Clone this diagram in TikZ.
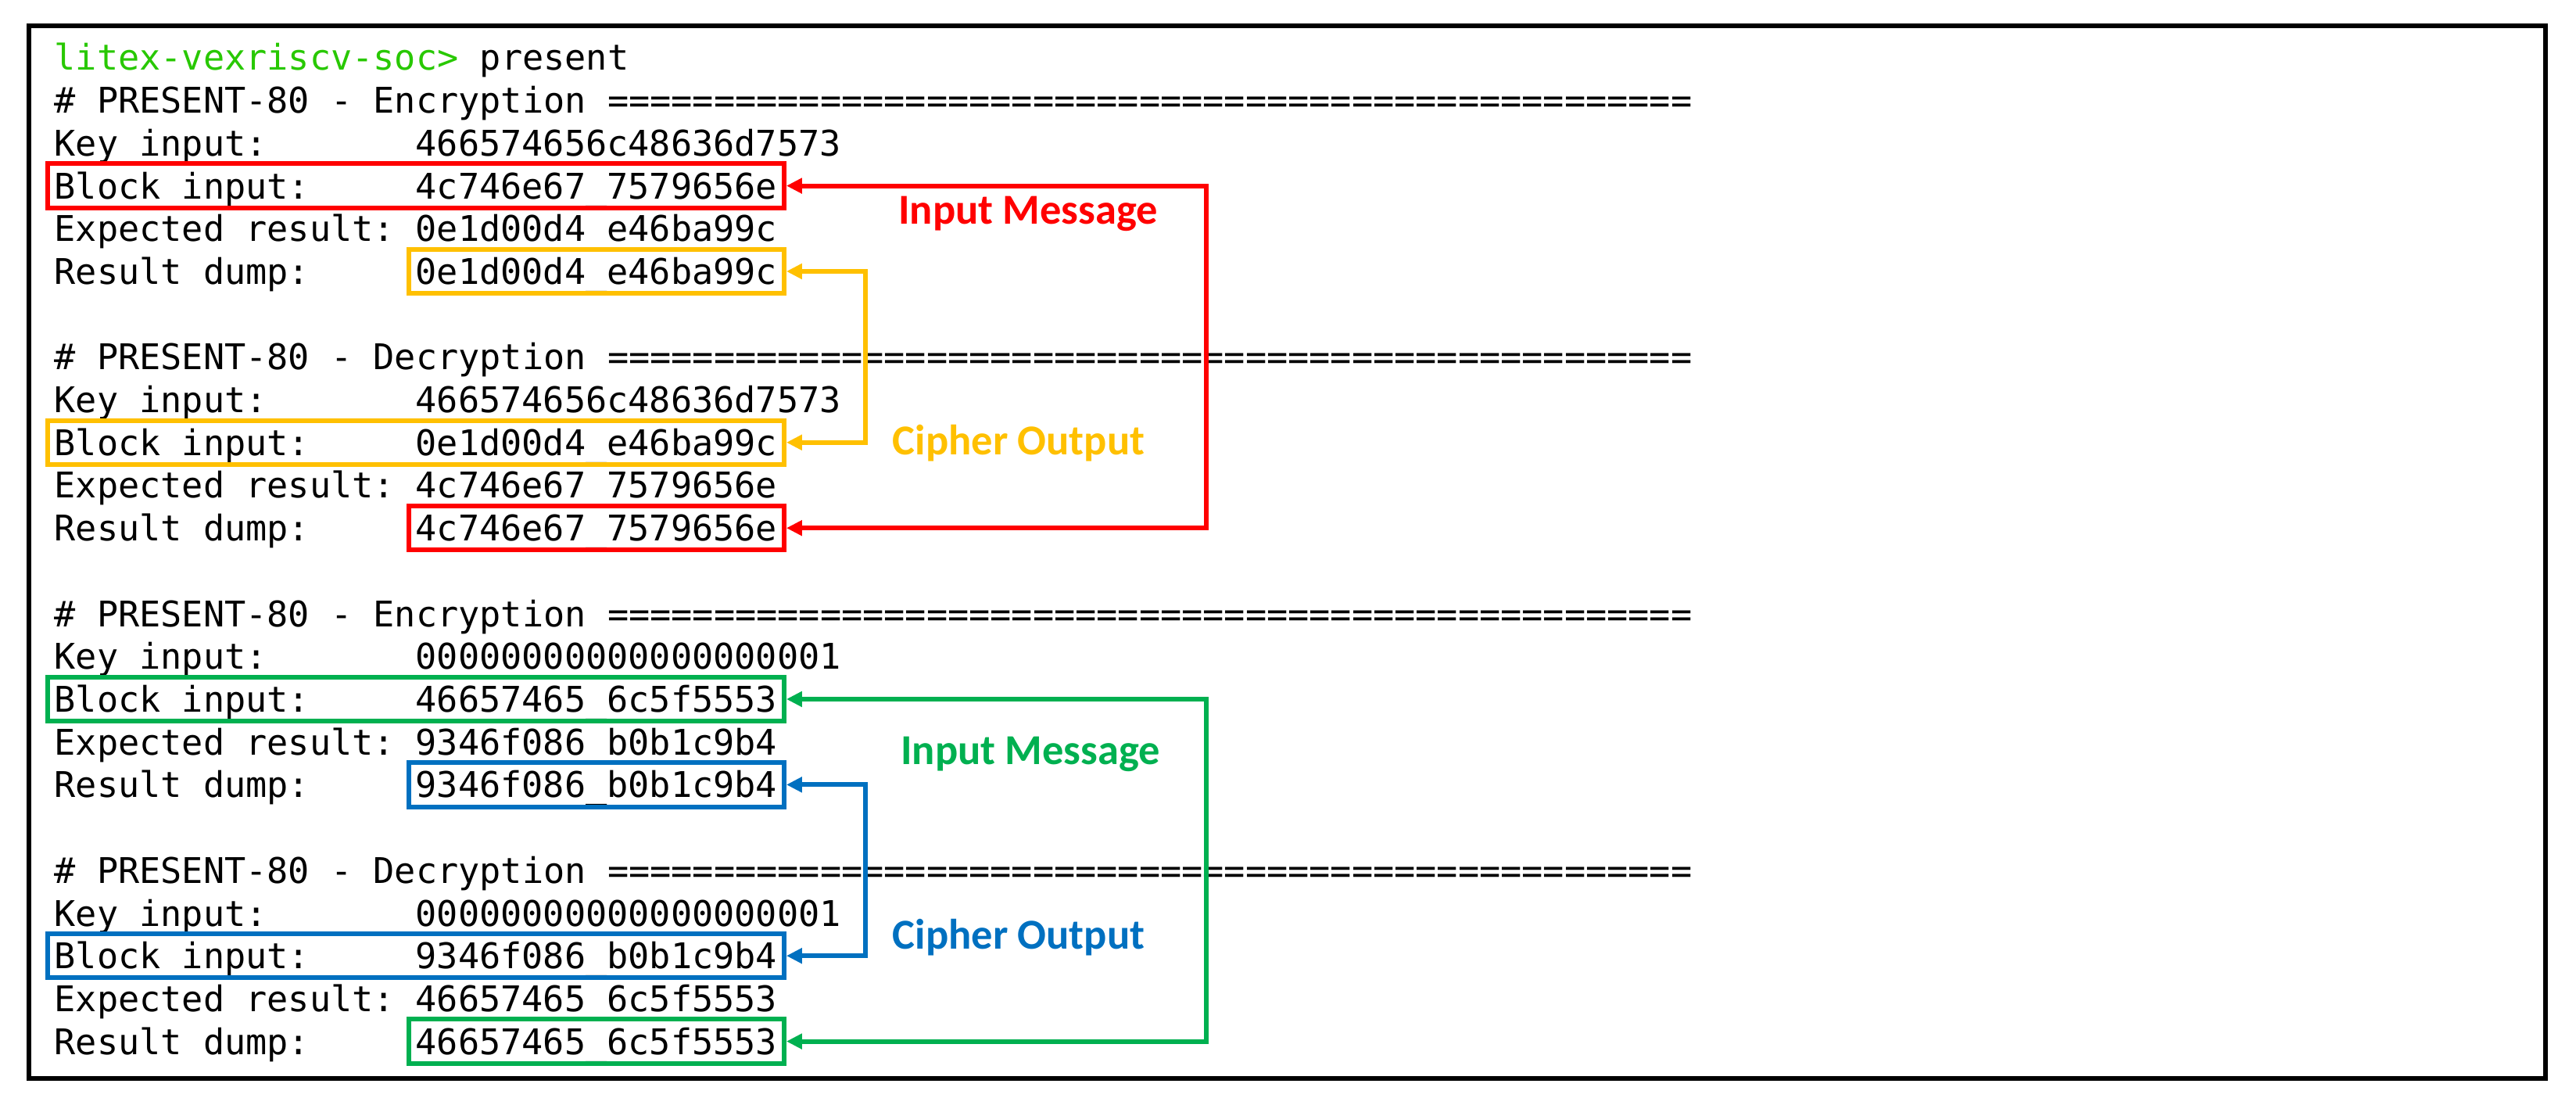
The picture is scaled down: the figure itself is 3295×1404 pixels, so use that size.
\documentclass[tikz,border=0pt]{standalone}
\usepackage{fontspec}
\newfontfamily\termfont{DejaVu Sans Mono}
\newfontfamily\tagfont{Carlito}
\usetikzlibrary{arrows.meta,fit}
\definecolor{promptgreen}{RGB}{40,200,0}
\definecolor{hlred}{RGB}{255,0,0}
\definecolor{hlyellow}{RGB}{255,192,0}
\definecolor{hlgreen}{RGB}{0,176,80}
\definecolor{hlblue}{RGB}{0,112,192}
\tikzset{
  term/.style={anchor=base west,inner sep=0pt,text height=0.33cm,text depth=0pt,
    font=\termfont\fontsize{12.85}{15}\selectfont},
  hl/.style={draw=#1,line width=1.7pt,inner xsep=0.08cm,inner ysep=0.11cm},
  link/.style={draw=#1,line width=1.7pt,
    {Triangle[length=0.2cm,width=0.19cm]}-{Triangle[length=0.2cm,width=0.19cm]}},
  tag/.style={font=\tagfont\bfseries\fontsize{15.5}{18}\selectfont,text=#1}
}

\begin{document}
\begin{tikzpicture}[x=0.01cm,y=-0.01cm]
\useasboundingbox (0,0) rectangle (3295,1404);
\draw[line width=1.5pt] (37,33) rectangle (3256,1379);

% console lines
\node[term] (l0) at (69,90) {\textcolor{promptgreen}{litex-vexriscv-soc>} present};
\node[term] (l1) at (69,144.7) {\# PRESENT-80 - Encryption ===================================================};
\node[term] (l2) at (69,199.4) {Key input:};
\node[term] (v2) at (531,199.4) {466574656c48636d7573};
\node[term] (l3) at (69,254.1) {Block input:};
\node[term] (v3) at (531,254.1) {4c746e67\_7579656e};
\node[term] (l4) at (69,308.8) {Expected result:};
\node[term] (v4) at (531,308.8) {0e1d00d4\_e46ba99c};
\node[term] (l5) at (69,363.5) {Result dump:};
\node[term] (v5) at (531,363.5) {0e1d00d4\_e46ba99c};

\node[term] (l7) at (69,472.9) {\# PRESENT-80 - Decryption ===================================================};
\node[term] (l8) at (69,527.6) {Key input:};
\node[term] (v8) at (531,527.6) {466574656c48636d7573};
\node[term] (l9) at (69,582.3) {Block input:};
\node[term] (v9) at (531,582.3) {0e1d00d4\_e46ba99c};
\node[term] (l10) at (69,637) {Expected result:};
\node[term] (v10) at (531,637) {4c746e67\_7579656e};
\node[term] (l11) at (69,691.7) {Result dump:};
\node[term] (v11) at (531,691.7) {4c746e67\_7579656e};

\node[term] (l13) at (69,801.1) {\# PRESENT-80 - Encryption ===================================================};
\node[term] (l14) at (69,855.8) {Key input:};
\node[term] (v14) at (531,855.8) {00000000000000000001};
\node[term] (l15) at (69,910.5) {Block input:};
\node[term] (v15) at (531,910.5) {46657465\_6c5f5553};
\node[term] (l16) at (69,965.2) {Expected result:};
\node[term] (v16) at (531,965.2) {9346f086\_b0b1c9b4};
\node[term] (l17) at (69,1019.9) {Result dump:};
\node[term] (v17) at (531,1019.9) {9346f086\_b0b1c9b4};

\node[term] (l19) at (69,1129.3) {\# PRESENT-80 - Decryption ===================================================};
\node[term] (l20) at (69,1184) {Key input:};
\node[term] (v20) at (531,1184) {00000000000000000001};
\node[term] (l21) at (69,1238.7) {Block input:};
\node[term] (v21) at (531,1238.7) {9346f086\_b0b1c9b4};
\node[term] (l22) at (69,1293.4) {Expected result:};
\node[term] (v22) at (531,1293.4) {46657465\_6c5f5553};
\node[term] (l23) at (69,1348.1) {Result dump:};
\node[term] (v23) at (531,1348.1) {46657465\_6c5f5553};

% highlight boxes
\node[hl=hlred,fit=(l3)(v3)] (b3) {};
\node[hl=hlyellow,fit=(v5)] (b5) {};
\node[hl=hlyellow,fit=(l9)(v9)] (b9) {};
\node[hl=hlred,fit=(v11)] (b11) {};
\node[hl=hlgreen,fit=(l15)(v15)] (b15) {};
\node[hl=hlblue,fit=(v17)] (b17) {};
\node[hl=hlblue,fit=(l21)(v21)] (b21) {};
\node[hl=hlgreen,fit=(v23)] (b23) {};

% rails
\coordinate (outer) at (1543,0);
\coordinate (inner) at (1107,0);
\draw[link=hlred] (b3.east) -- (b3.east -| outer) -- (b11.east -| outer) -- (b11.east);
\draw[link=hlyellow] (b5.east) -- (b5.east -| inner) -- (b9.east -| inner) -- (b9.east);
\draw[link=hlgreen] (b15.east) -- (b15.east -| outer) -- (b23.east -| outer) -- (b23.east);
\draw[link=hlblue] (b17.east) -- (b17.east -| inner) -- (b21.east -| inner) -- (b21.east);

% labels
\node[tag=hlred] (t1) at (1315,273) {Input Message};
\node[tag=hlyellow] (t2) at (1303,567) {Cipher Output};
\node[tag=hlgreen] (t3) at (1318,964) {Input Message};
\node[tag=hlblue] (t4) at (1303,1199) {Cipher Output};
\end{tikzpicture}
\end{document}
